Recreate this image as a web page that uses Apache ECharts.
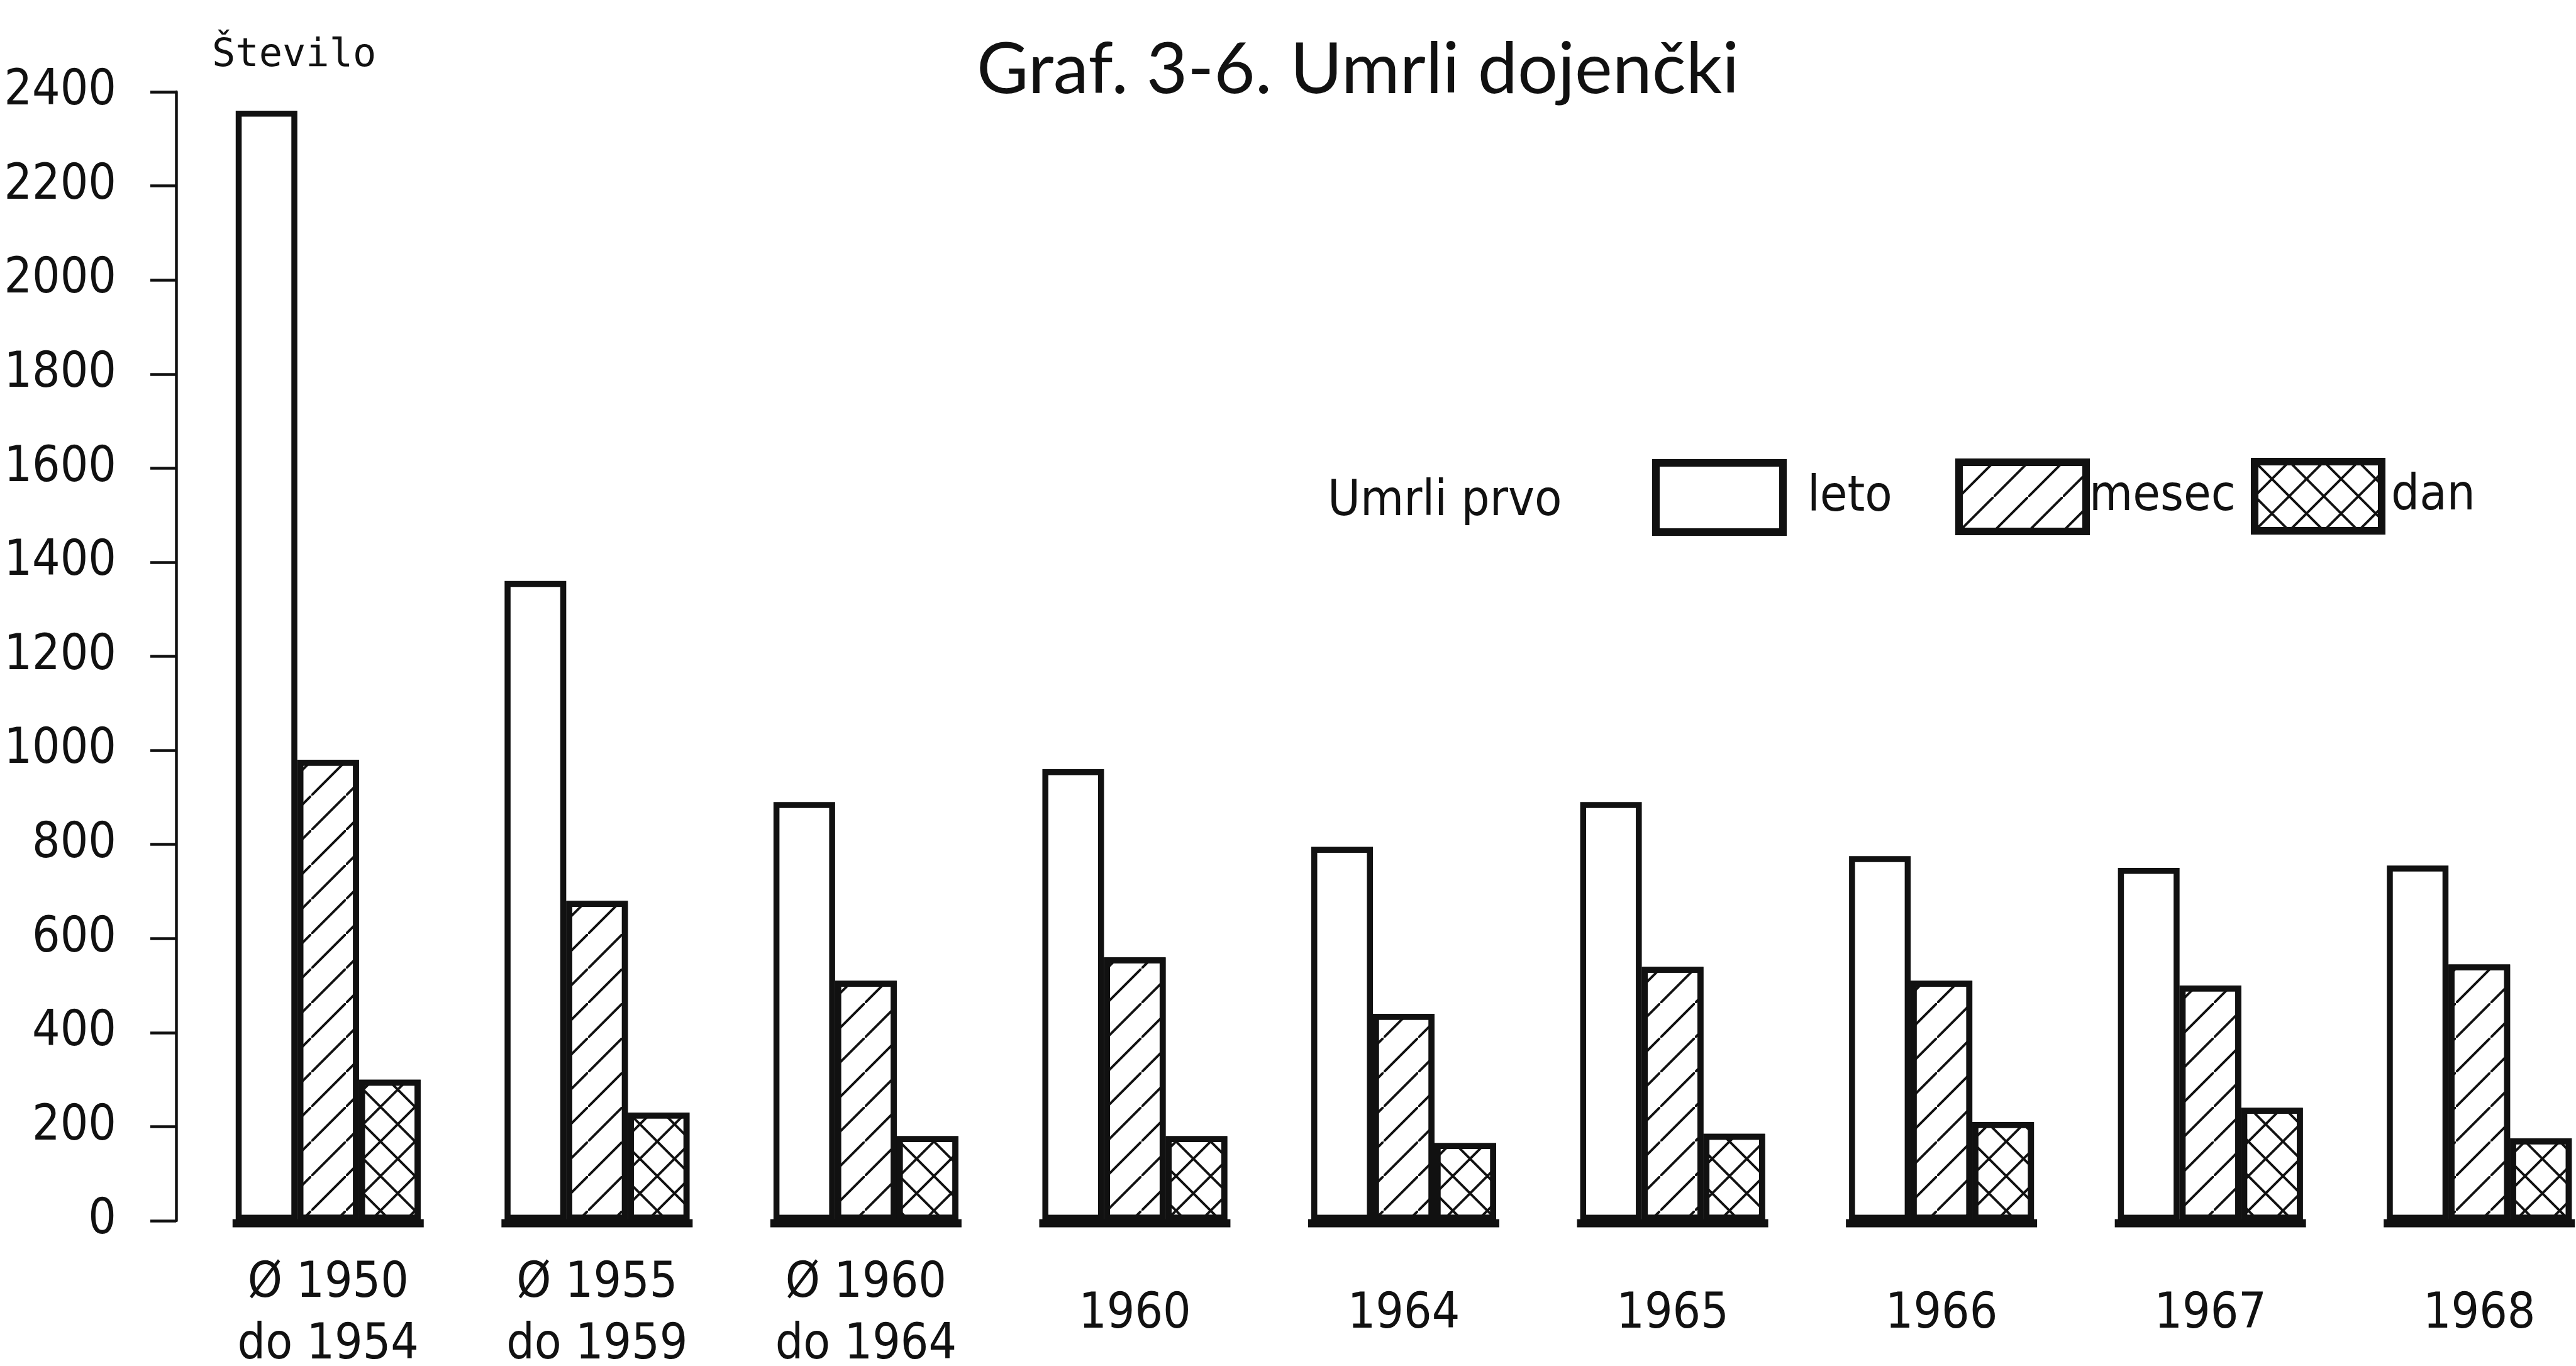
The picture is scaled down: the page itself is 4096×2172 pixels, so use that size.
<!DOCTYPE html>
<html>
<head>
<meta charset="utf-8">
<title>Graf. 3-6. Umrli dojenčki</title>
<script src="https://cdn.jsdelivr.net/npm/echarts@6/dist/echarts.min.js"></script>
<style>
  html, body { margin: 0; padding: 0; background: #fff; }
  #chart { width: 4096px; height: 2172px; }
</style>
</head>
<body>
<div id="chart"></div>
<script>
// values (number of infant deaths)
var categories = ['Ø 1950\ndo 1954', 'Ø 1955\ndo 1959', 'Ø 1960\ndo 1964', '1960', '1964', '1965', '1966', '1967', '1968'];
var letoValues = [2360, 1360, 890, 960, 795, 890, 775, 750, 755];
var mesecValues = [980, 680, 510, 560, 440, 540, 510, 500, 545];
var danValues = [300, 230, 180, 180, 165, 185, 210, 240, 175];
var yMin = 0;
var yMax = 2400;
var yStep = 200;

var INK = '#111';
var NARROW = '"Liberation Sans Narrow", "DejaVu Sans Condensed", sans-serif';
var MONO = '"DejaVu Sans Mono", "Liberation Mono", monospace';
var BAR_W = 98;

// hatch tiles: one "/" stripe per tile, or an "X" for the crosshatch
var hatchDecal = {
  symbol: 'path://M95,0L100,0L100,5L5,100L0,100L0,95Z',
  symbolSize: 1,
  symbolKeepAspect: false,
  color: INK,
  dashArrayX: [55, 0],
  dashArrayY: [55, 0]
};
var crossDecal = {
  symbol: 'path://M95,0L100,0L100,5L5,100L0,100L0,95ZM0,0L5,0L100,95L100,100L95,100L0,5Z',
  symbolSize: 1,
  symbolKeepAspect: false,
  color: INK,
  dashArrayX: [55, 0],
  dashArrayY: [55, 0]
};

function barSeries(name, data, decal) {
  var style = { color: '#fff', borderColor: INK, borderWidth: 9.5 };
  if (decal) { style.decal = decal; }
  return {
    name: name,
    type: 'bar',
    data: data,
    barWidth: BAR_W,
    barGap: '0%',
    itemStyle: style,
    emphasis: { disabled: true }
  };
}

// the heavy pen stroke under each group of three bars
function baseSeries() {
  return {
    type: 'custom',
    silent: true,
    z: 3,
    data: categories.map(function (c) { return [c, yMin]; }),
    encode: { x: 0, y: 1 },
    renderItem: function (params, api) {
      var p = api.coord([api.value(0), api.value(1)]);
      var half = BAR_W * 1.5 + 5;
      return {
        type: 'line',
        shape: { x1: p[0] - half, y1: p[1] + 4, x2: p[0] + half, y2: p[1] + 4 },
        style: { stroke: INK, lineWidth: 13 }
      };
    }
  };
}

function legendFor(name, left, top, textPad) {
  return {
    data: [name],
    left: left,
    top: top,
    padding: 0,
    icon: 'rect',
    itemWidth: 202,
    itemHeight: 110,
    selectedMode: false,
    itemStyle: { borderColor: INK, borderWidth: 12 },
    textStyle: { fontFamily: NARROW, fontSize: 79, color: INK, padding: [0, 0, 0, textPad] }
  };
}

var chart = echarts.init(document.getElementById('chart'));

chart.setOption({
  animation: false,
  backgroundColor: '#fff',
  title: [
    {
      text: 'Graf. 3-6. Umrli dojenčki',
      left: 1553, top: 55, padding: 0,
      textStyle: { fontFamily: 'Lato, "Noto Sans", sans-serif', fontWeight: 'normal', fontSize: 113, color: INK }
    },
    {
      text: 'Število',
      left: 337, top: 58, padding: 0,
      textStyle: { fontFamily: MONO, fontWeight: 'normal', fontSize: 62, color: INK }
    },
    {
      text: 'Umrli prvo',
      left: 2111, top: 759, padding: 0,
      textStyle: { fontFamily: NARROW, fontWeight: 'normal', fontSize: 79, color: INK }
    }
  ],
  legend: [
    legendFor('leto', 2627, 730, 34),
    legendFor('mesec', 3109, 729, 0),
    legendFor('dan', 3579, 728, 10)
  ],
  grid: { left: 308, top: 146, width: 3848, bottom: 231, outerBoundsMode: 'none' },
  xAxis: {
    type: 'category',
    data: categories,
    axisLine: { show: false },
    axisTick: { show: false },
    splitLine: { show: false },
    axisLabel: {
      interval: 0,
      margin: 150,
      verticalAlign: 'middle',
      align: 'center',
      lineHeight: 98,
      fontFamily: NARROW,
      fontSize: 78,
      color: INK
    }
  },
  yAxis: {
    type: 'value',
    min: yMin,
    max: yMax,
    interval: yStep,
    offset: 28,
    splitLine: { show: false },
    axisLine: { show: true, lineStyle: { color: INK, width: 4.5 } },
    axisTick: { show: true, inside: false, length: 41, lineStyle: { color: INK, width: 4.5 } },
    axisLabel: {
      margin: 95,
      fontFamily: NARROW,
      fontSize: 78,
      color: INK,
      formatter: function (v) { return String(v); }
    }
  },
  series: [
    barSeries('leto', letoValues, null),
    barSeries('mesec', mesecValues, hatchDecal),
    barSeries('dan', danValues, crossDecal),
    baseSeries()
  ]
});
</script>
</body>
</html>
